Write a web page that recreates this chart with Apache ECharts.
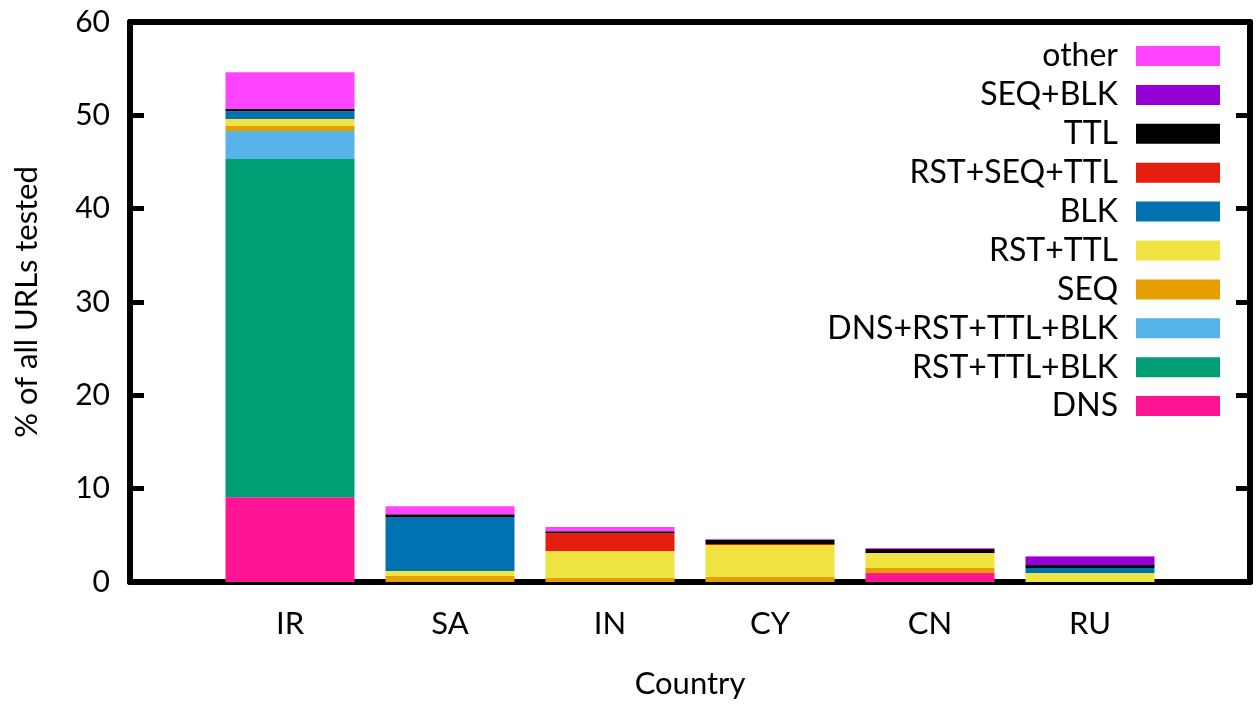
<!DOCTYPE html>
<html>
<head>
<meta charset="utf-8">
<style>
  html, body { margin: 0; padding: 0; background: #fff; }
  #chart { width: 1257px; height: 704px; }
</style>
<script src="https://cdn.jsdelivr.net/npm/echarts@6/dist/echarts.min.js"></script>
</head>
<body>
<div id="chart"></div>
<script>
// Countries on the x axis
const countries = ['IR', 'SA', 'IN', 'CY', 'CN', 'RU'];

// Share of all tested URLs (%) per censorship technique, per country (IR, SA, IN, CY, CN, RU)
const DNS             = [9.09, 0,    0,    0,    0.96, 0];
const RST_TTL_BLK     = [36.23, 0,   0,    0,    0,    0];
const DNS_RST_TTL_BLK = [3.0,  0,    0,    0,    0,    0];
const SEQ             = [0.53, 0.64, 0.43, 0.53, 0.54, 0];
const RST_TTL         = [0.75, 0.54, 2.88, 3.43, 1.60, 0.96];
const BLK             = [0.85, 5.77, 0,    0,    0,    0.54];
const RST_SEQ_TTL     = [0,    0,    1.93, 0.10, 0,    0];
const TTL             = [0.22, 0.32, 0.21, 0.43, 0.43, 0.32];
const SEQ_BLK         = [0,    0,    0,    0,    0,    0.85];
const OTHER           = [3.95, 0.85, 0.43, 0.11, 0.10, 0.11];

// Y axis tick values
const yTicks = [0, 10, 20, 30, 40, 50, 60];

const FONT = 'Lato, "Open Sans", "DejaVu Sans", sans-serif';

// The x range runs one slot beyond the first and last country
const slots = [''].concat(countries, ['']);
const pad = arr => [null].concat(arr, [null]);

// Stack order, bottom to top
const layers = [
  { name: 'DNS',             data: DNS,             color: '#ff1493' },
  { name: 'RST+TTL+BLK',     data: RST_TTL_BLK,     color: '#009e73' },
  { name: 'DNS+RST+TTL+BLK', data: DNS_RST_TTL_BLK, color: '#56b4e9' },
  { name: 'SEQ',             data: SEQ,             color: '#e69f00' },
  { name: 'RST+TTL',         data: RST_TTL,         color: '#f0e442' },
  { name: 'BLK',             data: BLK,             color: '#0072b2' },
  { name: 'RST+SEQ+TTL',     data: RST_SEQ_TTL,     color: '#e51e10' },
  { name: 'TTL',             data: TTL,             color: '#000000' },
  { name: 'SEQ+BLK',         data: SEQ_BLK,         color: '#9400d3' },
  { name: 'other',           data: OTHER,           color: '#ff44ff' }
];

const series = layers.map(l => ({
  name: l.name,
  type: 'bar',
  stack: 'total',
  barWidth: 129,
  itemStyle: { color: l.color },
  emphasis: { disabled: true },
  data: pad(l.data)
}));

// One legend block per entry (top entry = top of stack), right-aligned text
const legendOrder = layers.slice().reverse();
const legends = legendOrder.map((l, i) => ({
  data: [l.name],
  orient: 'vertical',
  right: 37,
  top: 40 + i * 38.9,
  padding: 0,
  align: 'right',
  itemWidth: 84,
  itemHeight: 20,
  selectedMode: false,
  icon: 'rect',
  textStyle: {
    fontFamily: FONT,
    fontSize: 32,
    lineHeight: 32,
    color: '#000',
    padding: [0, 13, 0, 0]
  }
}));

const axisLineStyle = { color: '#000', width: 6 };

const option = {
  animation: false,
  backgroundColor: '#fff',
  grid: { left: 130, right: 7, top: 22, bottom: 116, containLabel: false },
  legend: legends,
  xAxis: [
    {
      type: 'category',
      data: slots,
      boundaryGap: false,
      position: 'bottom',
      name: 'Country',
      nameLocation: 'middle',
      nameGap: 86,
      nameTextStyle: { fontFamily: FONT, fontSize: 31, color: '#000' },
      axisLine: { show: true, onZero: false, lineStyle: axisLineStyle },
      axisTick: { show: false },
      splitLine: { show: false },
      axisLabel: { fontFamily: FONT, fontSize: 31, color: '#000', margin: 26, interval: 0 }
    },
    {
      type: 'category',
      data: slots,
      boundaryGap: false,
      position: 'top',
      axisLine: { show: true, onZero: false, lineStyle: axisLineStyle },
      axisTick: { show: false },
      axisLabel: { show: false },
      splitLine: { show: false }
    }
  ],
  yAxis: [
    {
      type: 'value',
      min: yTicks[0], max: yTicks[yTicks.length - 1], interval: 10,
      position: 'left',
      name: '% of all URLs tested',
      nameLocation: 'middle',
      nameGap: 88,
      nameRotate: 90,
      nameTextStyle: { fontFamily: FONT, fontSize: 31, color: '#000' },
      axisLine: { show: true, onZero: false, lineStyle: axisLineStyle },
      axisTick: { show: true, inside: true, length: 14, lineStyle: { color: '#000', width: 5 } },
      splitLine: { show: false },
      axisLabel: { fontFamily: FONT, fontSize: 30, color: '#000', margin: 20 }
    },
    {
      type: 'value',
      min: yTicks[0], max: yTicks[yTicks.length - 1], interval: 10,
      position: 'right',
      axisLine: { show: true, onZero: false, lineStyle: axisLineStyle },
      axisTick: { show: true, inside: true, length: 14, lineStyle: { color: '#000', width: 5 } },
      splitLine: { show: false },
      axisLabel: { show: false }
    }
  ],
  series: series
};

const chart = echarts.init(document.getElementById('chart'), null, { renderer: 'canvas' });
chart.setOption(option);
</script>
</body>
</html>
